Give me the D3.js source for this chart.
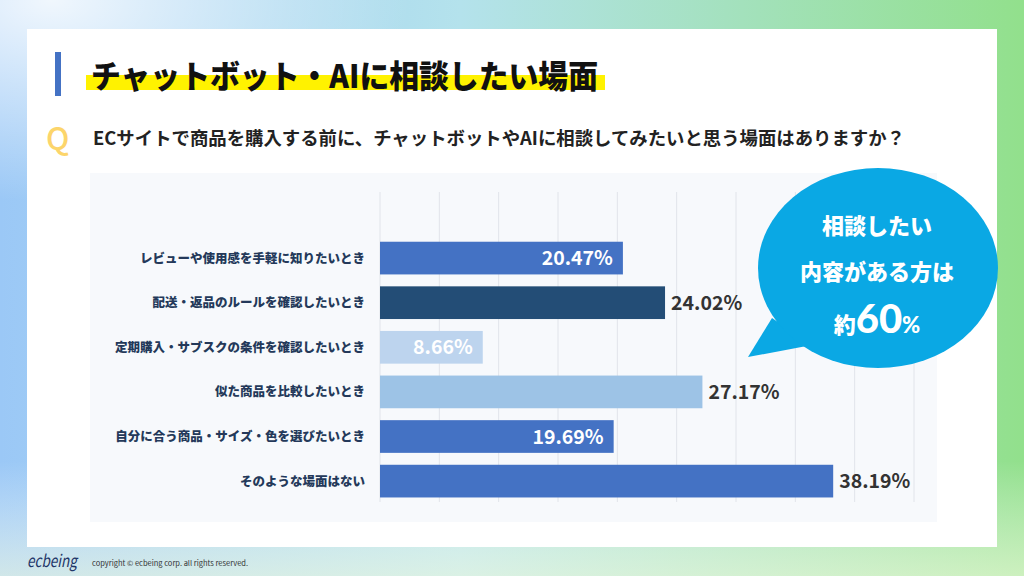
<!DOCTYPE html>
<html>
<head>
<meta charset="utf-8">
<script src="https://cdn.jsdelivr.net/npm/d3@7"></script>
<style>
  html, body { margin: 0; padding: 0; background: #fff; }
  svg { display: block; }
  text { font-family: "Noto Sans CJK JP", "Noto Sans", sans-serif; }
</style>
</head>
<body>
<svg id="chart"></svg>
<script>
// chart data
const titleText = 'チャットボット・AIに相談したい場面'
const questionText = 'ECサイトで商品を購入する前に、チャットボットやAIに相談してみたいと思う場面はありますか？'
const categories = [
    'レビューや使用感を手軽に知りたいとき',
    '配送・返品のルールを確認したいとき',
    '定期購入・サブスクの条件を確認したいとき',
    '似た商品を比較したいとき',
    '自分に合う商品・サイズ・色を選びたいとき',
    'そのような場面はない'
]
const values = [20.47, 24.02, 8.66, 27.17, 19.69, 38.19]
const xTicks = [0, 5, 10, 15, 20, 25, 30, 35, 40, 45]
const bubbleLines = ['相談したい', '内容がある方は']
const bubbleTotal = '60'

const barColors = ['#4472c4', '#234d76', '#bdd4ee', '#9dc3e6', '#4472c4', '#4472c4']

const width = 1024, height = 576

const svg = d3.select('#chart')
              .attr('width', width)
              .attr('height', height)
              .attr('viewBox', [0, 0, width, height])

const defs = svg.append('defs')
const bg = defs.append('linearGradient').attr('id', 'bg').attr('x1', 0).attr('x2', 1).attr('y1', 0).attr('y2', 0)
bg.append('stop').attr('offset', '0%').attr('stop-color', '#9bc8f6')
bg.append('stop').attr('offset', '45%').attr('stop-color', '#b4e2ec')
bg.append('stop').attr('offset', '100%').attr('stop-color', '#92e08c')
const glow = defs.append('radialGradient').attr('id', 'glow').attr('cx', 0.05).attr('cy', 0).attr('r', 0.35)
glow.append('stop').attr('offset', '0%').attr('stop-color', '#ffffff').attr('stop-opacity', 0.85)
glow.append('stop').attr('offset', '100%').attr('stop-color', '#ffffff').attr('stop-opacity', 0)
const bottomGlow = defs.append('linearGradient').attr('id', 'bottomGlow').attr('x1', 0).attr('x2', 0).attr('y1', 0).attr('y2', 1)
bottomGlow.append('stop').attr('offset', '80%').attr('stop-color', '#ffffff').attr('stop-opacity', 0)
bottomGlow.append('stop').attr('offset', '100%').attr('stop-color', '#f4fbe0').attr('stop-opacity', 0.6)

svg.append('rect').attr('width', width).attr('height', height).attr('fill', 'url(#bg)')
svg.append('rect').attr('width', width).attr('height', height).attr('fill', 'url(#glow)')
svg.append('rect').attr('width', width).attr('height', height).attr('fill', 'url(#bottomGlow)')

// white card
svg.append('rect')
   .attr('x', 27).attr('y', 29)
   .attr('width', 970).attr('height', 518)
   .attr('fill', '#ffffff')

// title
svg.append('rect').attr('x', 55).attr('y', 52).attr('width', 6).attr('height', 44).attr('fill', '#4472c4')
svg.append('rect').attr('x', 86).attr('y', 75).attr('width', 519).attr('height', 15).attr('fill', '#fff200')
svg.append('text')
   .attr('x', 91).attr('y', 88)
   .attr('font-size', 32)
   .attr('font-weight', 900)
   .attr('fill', '#111')
   .attr('textLength', 507)
   .attr('lengthAdjust', 'spacingAndGlyphs')
   .text(titleText)

// question
svg.append('text')
   .attr('x', 46).attr('y', 150)
   .attr('font-size', 31)
   .attr('font-weight', 500)
   .attr('fill', '#fcd56b')
   .attr('font-family', 'Lato, "Noto Sans", sans-serif')
   .text('Q')
svg.append('text')
   .attr('x', 93).attr('y', 145)
   .attr('font-size', 18)
   .attr('font-weight', 700)
   .attr('fill', '#222')
   .attr('textLength', 812)
   .attr('lengthAdjust', 'spacingAndGlyphs')
   .text(questionText)

// chart panel
svg.append('rect')
   .attr('x', 90).attr('y', 173)
   .attr('width', 847).attr('height', 349)
   .attr('fill', '#f7f9fc')

const marginLeft = 380, plotRight = 914, gridTop = 192, gridBottom = 502

const xScale = d3.scaleLinear([0, 45], [marginLeft, plotRight])
const yScale = d3.scaleBand(categories, [235.8, 503.4]).paddingInner(0.267).paddingOuter(0.133)

svg.append('g')
   .selectAll('line')
   .data(xTicks)
   .join('line')
     .attr('x1', d => xScale(d))
     .attr('x2', d => xScale(d))
     .attr('y1', gridTop)
     .attr('y2', gridBottom)
     .attr('stroke', '#e1e4ea')
     .attr('stroke-width', 1)

svg.append('g')
   .selectAll('rect')
   .data(values)
   .join('rect')
     .attr('x', xScale(0))
     .attr('y', (d, i) => yScale(categories[i]))
     .attr('width', d => xScale(d) - xScale(0))
     .attr('height', yScale.bandwidth())
     .attr('fill', (d, i) => barColors[i])

// category labels
svg.append('g')
   .selectAll('text')
   .data(categories)
   .join('text')
     .attr('x', marginLeft - 15)
     .attr('y', d => yScale(d) + yScale.bandwidth() / 2)
     .attr('dy', '0.36em')
     .attr('text-anchor', 'end')
     .attr('font-size', 12.5)
     .attr('font-weight', 900)
     .attr('fill', '#24395a')
     .text(d => d)

// value labels: short bars get the label inside
const inside = d => d < 22
svg.append('g')
   .selectAll('text')
   .data(values)
   .join('text')
     .attr('x', d => inside(d) ? xScale(d) - 10 : xScale(d) + 6)
     .attr('y', (d, i) => yScale(categories[i]) + yScale.bandwidth() / 2)
     .attr('dy', '0.36em')
     .attr('text-anchor', d => inside(d) ? 'end' : 'start')
     .attr('font-family', '"Open Sans", "Noto Sans", sans-serif')
     .attr('font-size', 19.5)
     .attr('font-weight', 700)
     .attr('fill', d => inside(d) ? '#ffffff' : '#333333')
     .text(d => d3.format('.2f')(d) + '%')

// speech bubble
const bubble = svg.append('g')
bubble.append('path')
   .attr('d', 'M772,318 L748,357 L812,345 Z')
   .attr('fill', '#0aa8e4')
bubble.append('ellipse')
   .attr('cx', 878).attr('cy', 268)
   .attr('rx', 120).attr('ry', 100)
   .attr('fill', '#0aa8e4')
bubble.selectAll('text.line')
   .data(bubbleLines)
   .join('text')
     .attr('class', 'line')
     .attr('x', 877)
     .attr('y', (d, i) => 234 + i * 46)
     .attr('text-anchor', 'middle')
     .attr('font-size', 22)
     .attr('font-weight', 900)
     .attr('fill', '#ffffff')
     .text(d => d)
const total = bubble.append('text')
   .attr('x', 877).attr('y', 333)
   .attr('text-anchor', 'middle')
   .attr('font-weight', 900)
   .attr('fill', '#ffffff')
total.append('tspan').attr('font-size', 22).text('約')
total.append('tspan').attr('font-size', 40).attr('font-family', 'Lato, "Noto Sans", sans-serif').text(bubbleTotal)
total.append('tspan').attr('font-size', 22).attr('font-family', 'Lato, "Noto Sans", sans-serif').text('%')

// footer
svg.append('text')
   .attr('x', 27).attr('y', 567)
   .attr('font-family', 'Lato, "Noto Sans", sans-serif')
   .attr('font-style', 'italic')
   .attr('font-size', 17)
   .attr('fill', '#1e3568')
   .attr('textLength', 50)
   .attr('lengthAdjust', 'spacingAndGlyphs')
   .text('ecbeing')
svg.append('text')
   .attr('x', 92).attr('y', 566)
   .attr('font-family', '"Noto Sans", sans-serif')
   .attr('font-size', 7.5)
   .attr('fill', '#333')
   .text('copyright © ecbeing corp. all rights reserved.')
</script>
</body>
</html>
